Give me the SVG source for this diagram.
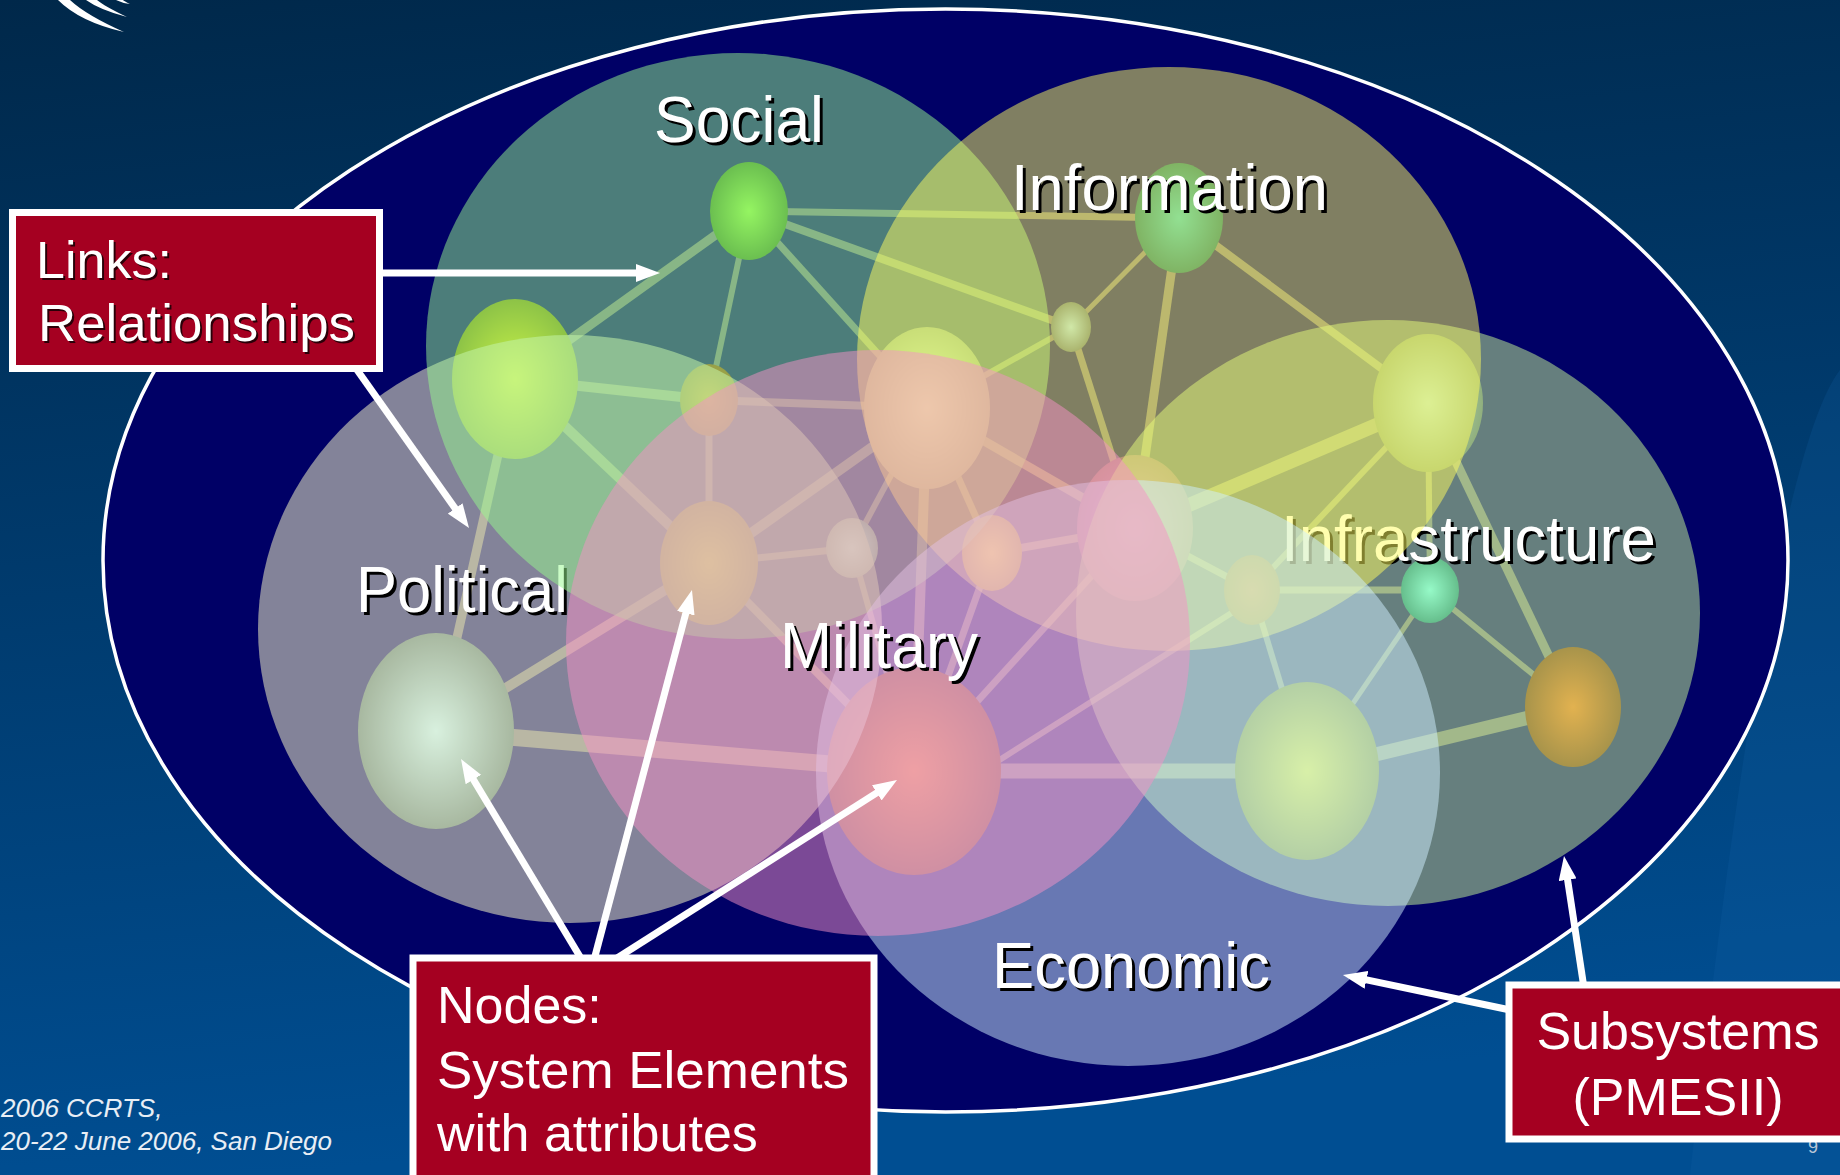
<svg xmlns="http://www.w3.org/2000/svg" width="1840" height="1175" viewBox="0 0 1840 1175">
<defs>
<style>
.ft{font-family:"Liberation Sans",Arial,sans-serif}
.lbl{font-family:"Liberation Sans",Arial,sans-serif;font-size:65px}
.sh{fill:#000}
.fg{fill:#fff}
.link{stroke:#78737E;fill:none}
.box{fill:#A50021;stroke:#fff;stroke-width:7}
.bt{font-family:"Liberation Sans",Arial,sans-serif;font-size:52px}
.bsh{fill:#2a0008}
.arrow{stroke:#fff;stroke-width:7;fill:none;marker-end:url(#ah)}
</style>
<linearGradient id="bg" x1="0" y1="0" x2="0.15" y2="1">
<stop offset="0" stop-color="#00284A"/>
<stop offset="1" stop-color="#004E92"/>
</linearGradient>
<marker id="ah" markerUnits="userSpaceOnUse" viewBox="0 0 24 18" markerWidth="24" markerHeight="18" refX="12" refY="9" orient="auto">
<path d="M0,0 L24,9 L0,18 Z" fill="#fff"/>
</marker>
<radialGradient id="g1"><stop offset="0" stop-color="rgb(146,240,54)"/><stop offset="1" stop-color="rgb(62,132,18)"/></radialGradient>
<radialGradient id="g2"><stop offset="0" stop-color="rgb(255,240,0)"/><stop offset="1" stop-color="rgb(130,140,0)"/></radialGradient>
<radialGradient id="g3"><stop offset="0" stop-color="rgb(240,110,0)"/><stop offset="1" stop-color="rgb(150,70,0)"/></radialGradient>
<radialGradient id="g4"><stop offset="0" stop-color="rgb(251,211,0)"/><stop offset="1" stop-color="rgb(144,104,0)"/></radialGradient>
<radialGradient id="g5"><stop offset="0" stop-color="rgb(200,255,255)"/><stop offset="1" stop-color="rgb(120,150,150)"/></radialGradient>
<radialGradient id="g6"><stop offset="0" stop-color="rgb(255,255,255)"/><stop offset="1" stop-color="rgb(140,130,150)"/></radialGradient>
<radialGradient id="g7"><stop offset="0" stop-color="rgb(37,194,198)"/><stop offset="1" stop-color="rgb(0,106,106)"/></radialGradient>
<radialGradient id="g8"><stop offset="0" stop-color="rgb(161,210,242)"/><stop offset="1" stop-color="rgb(85,106,126)"/></radialGradient>
<radialGradient id="g9"><stop offset="0" stop-color="rgb(166,198,255)"/><stop offset="1" stop-color="rgb(86,98,102)"/></radialGradient>
<radialGradient id="g10"><stop offset="0" stop-color="rgb(190,80,240)"/><stop offset="1" stop-color="rgb(110,40,140)"/></radialGradient>
<radialGradient id="g11"><stop offset="0" stop-color="rgb(255,250,12)"/><stop offset="1" stop-color="rgb(150,140,0)"/></radialGradient>
<radialGradient id="g12"><stop offset="0" stop-color="rgb(182,38,50)"/><stop offset="1" stop-color="rgb(100,20,30)"/></radialGradient>
<radialGradient id="g13"><stop offset="0" stop-color="rgb(96,246,250)"/><stop offset="1" stop-color="rgb(0,126,130)"/></radialGradient>
<radialGradient id="g14"><stop offset="0" stop-color="rgb(248,102,10)"/><stop offset="1" stop-color="rgb(132,42,0)"/></radialGradient>
<radialGradient id="g15"><stop offset="0" stop-color="rgb(244,226,12)"/><stop offset="1" stop-color="rgb(100,98,0)"/></radialGradient>
<radialGradient id="g16"><stop offset="0" stop-color="rgb(255,108,5)"/><stop offset="1" stop-color="rgb(132,44,0)"/></radialGradient>
<radialGradient id="g17"><stop offset="0" stop-color="rgb(189,242,255)"/><stop offset="1" stop-color="rgb(82,118,118)"/></radialGradient>
</defs>

<g id="background">
<rect x="0" y="0" width="1840" height="1175" fill="url(#bg)"/>
<path d="M1840,370 Q1770,460 1690,1175 L1840,1175 Z" fill="#1464A8" opacity="0.2"/>
<path d="M58,0 Q80,22 124,32 Q86,15 70,0 Z" fill="#fff"/>
<path d="M86,0 Q100,10 127,17 Q104,6 97,0 Z" fill="#fff"/>
<path d="M116,0 Q122,3 130,4 Q124,1 123,0 Z" fill="#fff"/>
<text class="ft" x="1" y="1117" font-size="26" font-style="italic" fill="#E8EEF5">2006 CCRTS,</text>
<text class="ft" x="1" y="1150" font-size="26" font-style="italic" fill="#E8EEF5">20-22 June 2006, San Diego</text>
<text class="ft" x="1808" y="1153" font-size="18" fill="#B8C6D6">9</text>
</g>

<g id="system-boundary">
<ellipse cx="945.5" cy="560.5" rx="842.5" ry="551.5" fill="#000066" stroke="#fff" stroke-width="3.5"/>
</g>

<g id="connectors">
<line class="link" stroke-width="7" x1="749" y1="211" x2="1179" y2="218"/>
<line class="link" stroke-width="8" x1="749" y1="211" x2="1071" y2="327"/>
<line class="link" stroke-width="9" x1="749" y1="211" x2="515" y2="379"/>
<line class="link" stroke-width="6" x1="749" y1="211" x2="709" y2="400"/>
<line class="link" stroke-width="7" x1="749" y1="211" x2="927" y2="408"/>
<line class="link" stroke-width="10" x1="515" y1="379" x2="709" y2="400"/>
<line class="link" stroke-width="10" x1="515" y1="379" x2="709" y2="563"/>
<line class="link" stroke-width="9" x1="515" y1="379" x2="436" y2="731"/>
<line class="link" stroke-width="8" x1="709" y1="400" x2="927" y2="408"/>
<line class="link" stroke-width="7" x1="709" y1="400" x2="709" y2="563"/>
<line class="link" stroke-width="10" x1="709" y1="563" x2="927" y2="408"/>
<line class="link" stroke-width="7" x1="709" y1="563" x2="852" y2="548"/>
<line class="link" stroke-width="10" x1="709" y1="563" x2="436" y2="731"/>
<line class="link" stroke-width="8" x1="709" y1="563" x2="914" y2="771"/>
<line class="link" stroke-width="17" x1="436" y1="731" x2="914" y2="771"/>
<line class="link" stroke-width="6" x1="852" y1="548" x2="914" y2="771"/>
<line class="link" stroke-width="6" x1="927" y1="408" x2="852" y2="548"/>
<line class="link" stroke-width="10" x1="927" y1="408" x2="914" y2="771"/>
<line class="link" stroke-width="6" x1="927" y1="408" x2="1071" y2="327"/>
<line class="link" stroke-width="9" x1="927" y1="408" x2="1135" y2="528"/>
<line class="link" stroke-width="7" x1="927" y1="408" x2="992" y2="553"/>
<line class="link" stroke-width="5" x1="1179" y1="218" x2="1071" y2="327"/>
<line class="link" stroke-width="9" x1="1179" y1="218" x2="1135" y2="528"/>
<line class="link" stroke-width="8" x1="1179" y1="218" x2="1428" y2="403"/>
<line class="link" stroke-width="7" x1="1071" y1="327" x2="1135" y2="528"/>
<line class="link" stroke-width="14" x1="1428" y1="403" x2="1135" y2="528"/>
<line class="link" stroke-width="6" x1="1428" y1="403" x2="1252" y2="590"/>
<line class="link" stroke-width="6" x1="1428" y1="403" x2="1430" y2="590"/>
<line class="link" stroke-width="9" x1="1428" y1="403" x2="1573" y2="707"/>
<line class="link" stroke-width="8" x1="1135" y1="528" x2="992" y2="553"/>
<line class="link" stroke-width="7" x1="1135" y1="528" x2="1252" y2="590"/>
<line class="link" stroke-width="7" x1="1252" y1="590" x2="1430" y2="590"/>
<line class="link" stroke-width="6" x1="1252" y1="590" x2="1307" y2="771"/>
<line class="link" stroke-width="5" x1="1430" y1="590" x2="1307" y2="771"/>
<line class="link" stroke-width="6" x1="1430" y1="590" x2="1573" y2="707"/>
<line class="link" stroke-width="14" x1="1573" y1="707" x2="1307" y2="771"/>
<line class="link" stroke-width="15" x1="1307" y1="771" x2="914" y2="771"/>
<line class="link" stroke-width="6" x1="990" y1="766" x2="1252" y2="600"/>
<line class="link" stroke-width="7" x1="914" y1="771" x2="1135" y2="528"/>
<line class="link" stroke-width="7" x1="914" y1="771" x2="992" y2="553"/>
</g>

<g id="node-social-1"><ellipse cx="749" cy="211" rx="39" ry="49" fill="url(#g1)"/></g>
<g id="node-social-2"><ellipse cx="515" cy="379" rx="63" ry="80" fill="url(#g2)"/></g>
<g id="node-social-3"><ellipse cx="709" cy="400" rx="29" ry="36" fill="url(#g3)"/></g>
<g id="node-military-4"><ellipse cx="709" cy="563" rx="49" ry="62" fill="url(#g4)"/></g>
<g id="node-military-5"><ellipse cx="852" cy="548" rx="26" ry="30" fill="url(#g5)"/></g>
<g id="node-info-6"><ellipse cx="927" cy="408" rx="63" ry="81" fill="url(#g6)"/></g>
<g id="node-info-7"><ellipse cx="1179" cy="218" rx="44" ry="55" fill="url(#g7)"/></g>
<g id="node-info-8"><ellipse cx="1071" cy="327" rx="20" ry="25" fill="url(#g8)"/></g>
<g id="node-infra-9"><ellipse cx="1428" cy="403" rx="55" ry="69" fill="url(#g9)"/></g>
<g id="node-info-10"><ellipse cx="1135" cy="528" rx="58" ry="73" fill="url(#g10)"/></g>
<g id="node-military-11"><ellipse cx="992" cy="553" rx="30" ry="38" fill="url(#g11)"/></g>
<g id="node-economic-12"><ellipse cx="1252" cy="590" rx="28" ry="35" fill="url(#g12)"/></g>
<g id="node-infra-13"><ellipse cx="1430" cy="590" rx="29" ry="33" fill="url(#g13)"/></g>
<g id="node-infra-14"><ellipse cx="1573" cy="707" rx="48" ry="60" fill="url(#g14)"/></g>
<g id="node-economic-15"><ellipse cx="1307" cy="771" rx="72" ry="89" fill="url(#g15)"/></g>
<g id="node-military-16"><ellipse cx="914" cy="771" rx="87" ry="104" fill="url(#g16)"/></g>
<g id="node-political-17"><ellipse cx="436" cy="731" rx="78" ry="98" fill="url(#g17)"/></g>

<g id="subsystem-political">
<ellipse cx="570" cy="629" rx="312" ry="294" fill="rgb(238,238,195)" fill-opacity="0.55"/>
<text class="lbl sh" x="359" y="615" textLength="212" lengthAdjust="spacingAndGlyphs">Political</text>
<text class="lbl fg" x="356" y="612" textLength="212" lengthAdjust="spacingAndGlyphs">Political</text>
</g>
<g id="subsystem-social">
<ellipse cx="738" cy="346" rx="312" ry="293" fill="rgb(152,250,142)" fill-opacity="0.5"/>
<text class="lbl sh" x="657" y="145" textLength="170" lengthAdjust="spacingAndGlyphs">Social</text>
<text class="lbl fg" x="654" y="142" textLength="170" lengthAdjust="spacingAndGlyphs">Social</text>
</g>
<g id="subsystem-infrastructure">
<ellipse cx="1388" cy="613" rx="312" ry="293" fill="rgb(204,254,150)" fill-opacity="0.5"/>
<text class="lbl sh" x="1284" y="564" textLength="375" lengthAdjust="spacingAndGlyphs">Infrastructure</text>
<text class="lbl fg" x="1281" y="561" textLength="375" lengthAdjust="spacingAndGlyphs">Infrastructure</text>
</g>
<g id="subsystem-information">
<ellipse cx="1169" cy="359" rx="312" ry="292" fill="rgb(255,254,94)" fill-opacity="0.5"/>
<text class="lbl sh" x="1014" y="213" textLength="317" lengthAdjust="spacingAndGlyphs">Information</text>
<text class="lbl fg" x="1011" y="210" textLength="317" lengthAdjust="spacingAndGlyphs">Information</text>
</g>
<g id="subsystem-economic">
<ellipse cx="1128" cy="773" rx="312" ry="293" fill="rgb(208,240,255)" fill-opacity="0.5"/>
<text class="lbl sh" x="995" y="991" textLength="278" lengthAdjust="spacingAndGlyphs">Economic</text>
<text class="lbl fg" x="992" y="988" textLength="278" lengthAdjust="spacingAndGlyphs">Economic</text>
</g>
<g id="subsystem-military">
<ellipse cx="878" cy="643" rx="312" ry="293" fill="rgb(246,146,198)" fill-opacity="0.5"/>
<text class="lbl sh" x="783" y="671" textLength="198" lengthAdjust="spacingAndGlyphs">Military</text>
<text class="lbl fg" x="780" y="668" textLength="198" lengthAdjust="spacingAndGlyphs">Military</text>
</g>

<g id="callout-arrows">
<line class="arrow" x1="370" y1="273" x2="648" y2="273"/>
<line class="arrow" x1="355" y1="367" x2="462.1" y2="518.2"/>
<line class="arrow" x1="582" y1="960" x2="467.2" y2="769.3"/>
<line class="arrow" x1="594" y1="960" x2="688.9" y2="601.6"/>
<line class="arrow" x1="614" y1="960" x2="886.9" y2="786.4"/>
<line class="arrow" x1="1515" y1="1011" x2="1354.7" y2="977.4"/>
<line class="arrow" x1="1584" y1="988" x2="1565.8" y2="867.9"/>
</g>

<g id="callout-links">
<rect class="box" x="12.5" y="212.5" width="367" height="156"/>
<text class="bt bsh" x="38" y="280">Links:</text>
<text class="bt fg" x="36" y="278">Links:</text>
<text class="bt bsh" x="40" y="343" textLength="317" lengthAdjust="spacingAndGlyphs">Relationships</text>
<text class="bt fg" x="38" y="341" textLength="317" lengthAdjust="spacingAndGlyphs">Relationships</text>
</g>
<g id="callout-nodes">
<rect class="box" x="413" y="958" width="461" height="230"/>
<text class="bt fg" x="437" y="1023">Nodes:</text>
<text class="bt fg" x="437" y="1088" textLength="412" lengthAdjust="spacingAndGlyphs">System Elements</text>
<text class="bt fg" x="437" y="1151">with attributes</text>
</g>
<g id="callout-subsystems">
<rect class="box" x="1509" y="985" width="340" height="154"/>
<text class="bt fg" x="1678" y="1049" text-anchor="middle">Subsystems</text>
<text class="bt fg" x="1678" y="1115" text-anchor="middle">(PMESII)</text>
</g>
</svg>
